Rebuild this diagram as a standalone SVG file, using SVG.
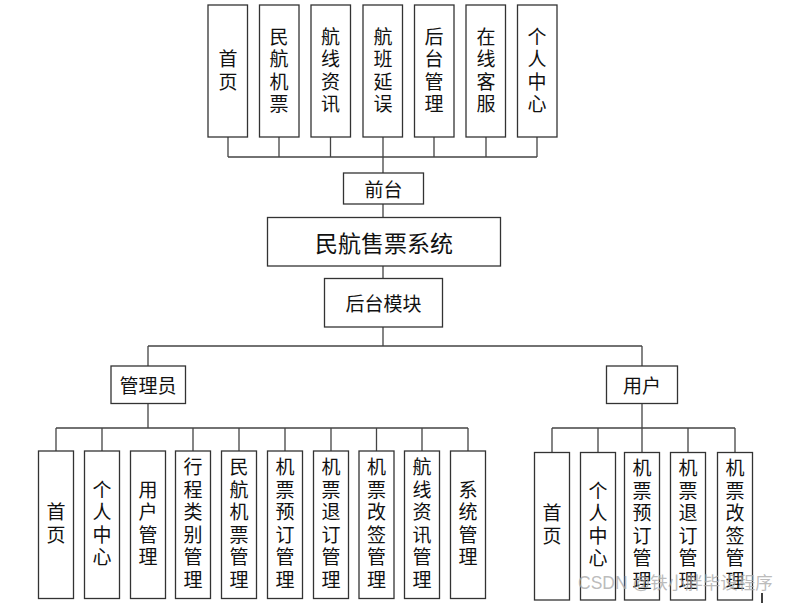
<svg xmlns="http://www.w3.org/2000/svg" width="786" height="603" viewBox="0 0 786 603">
<style>
.b{fill:#fff;stroke:#333;stroke-width:1.3}
.c{fill:none;stroke:#444;stroke-width:1.3}
text{font-family:"Noto Sans CJK SC","Liberation Sans",sans-serif;fill:#111;text-anchor:middle;dominant-baseline:central}
.t{font-size:19px}
.v{font-size:19px;writing-mode:vertical-rl;letter-spacing:3.5px}
.m{font-size:23px}
.w{font-family:"Liberation Sans","Noto Sans CJK SC",sans-serif;font-size:17.5px;fill:#aaa;fill-opacity:0.8;text-anchor:start}
</style>
<rect width="786" height="603" fill="#fff"/>
<g id="connectors" class="c">
<path d="M228 137V157M279 137V157M330.5 137V157M383 137V173M434 137V157M486 137V157M537 137V157M228 157H537"/>
<path d="M383 204V217M383 266V278M383 327V346M148 346H642M148 346V366M642 346V366"/>
<path d="M148 403V428M56 428H468M56 428V451M102 428V451M193 428V451M239 428V451M285 428V451M331 428V451M376.5 428V451M422 428V451M468 428V451"/>
<path d="M642 403V428M552 428H735M552 428V452M598 428V452M642 428V452M688 428V452M735 428V452"/>
</g>
<g id="n_shouye"><rect class="b" x="208" y="5" width="39.5" height="132"/><text class="v" x="228" y="72">首页</text></g>
<g id="n_mhjp"><rect class="b" x="259.5" y="5" width="39.5" height="132"/><text class="v" x="279" y="72">民航机票</text></g>
<g id="n_hxzx"><rect class="b" x="311" y="5" width="39.5" height="132"/><text class="v" x="330.5" y="72">航线资讯</text></g>
<g id="n_hbyw"><rect class="b" x="363" y="5" width="39.5" height="132"/><text class="v" x="383" y="72">航班延误</text></g>
<g id="n_htgl"><rect class="b" x="414.5" y="5" width="39.5" height="132"/><text class="v" x="434" y="72">后台管理</text></g>
<g id="n_zxkf"><rect class="b" x="466" y="5" width="39.5" height="132"/><text class="v" x="486" y="72">在线客服</text></g>
<g id="n_grzx"><rect class="b" x="517.5" y="5" width="39.5" height="132"/><text class="v" x="537" y="72">个人中心</text></g>
<g id="n_qiantai"><rect class="b" x="343.5" y="173" width="80" height="31"/><text class="t" x="383.5" y="188.5">前台</text></g>
<g id="n_system"><rect class="b" x="267.5" y="217.5" width="233" height="48.5"/><text class="m" x="384" y="241.5">民航售票系统</text></g>
<g id="n_houtai"><rect class="b" x="324.5" y="278.5" width="118" height="48.5"/><text class="t" x="383.5" y="302.5">后台模块</text></g>
<g id="n_admin"><rect class="b" x="111" y="366" width="74.5" height="37.5"/><text class="t" x="148" y="384.5">管理员</text></g>
<g id="n_user"><rect class="b" x="606.5" y="366" width="71" height="37.5"/><text class="t" x="642" y="384.5">用户</text></g>
<g id="a_shouye"><rect class="b" x="38.5" y="451" width="35" height="147.5"/><text class="v" x="56" y="525">首页</text></g>
<g id="a_grzx"><rect class="b" x="84.5" y="451" width="35" height="147.5"/><text class="v" x="102" y="525">个人中心</text></g>
<g id="a_yhgl"><rect class="b" x="130.5" y="451" width="35" height="147.5"/><text class="v" x="148" y="525">用户管理</text></g>
<g id="a_xclb"><rect class="b" x="175.5" y="451" width="35" height="147.5"/><text class="v" x="193" y="525">行程类别管理</text></g>
<g id="a_mhjp"><rect class="b" x="221.5" y="451" width="35" height="147.5"/><text class="v" x="239" y="525">民航机票管理</text></g>
<g id="a_jpyd"><rect class="b" x="267.5" y="451" width="35" height="147.5"/><text class="v" x="285" y="525">机票预订管理</text></g>
<g id="a_jptd"><rect class="b" x="313.5" y="451" width="35" height="147.5"/><text class="v" x="331" y="525">机票退订管理</text></g>
<g id="a_jpgq"><rect class="b" x="359" y="451" width="35" height="147.5"/><text class="v" x="376.5" y="525">机票改签管理</text></g>
<g id="a_hxzx"><rect class="b" x="404.5" y="451" width="35" height="147.5"/><text class="v" x="422" y="525">航线资讯管理</text></g>
<g id="a_xtgl"><rect class="b" x="450.5" y="451" width="35" height="147.5"/><text class="v" x="468" y="525">系统管理</text></g>
<g id="u_shouye"><rect class="b" x="534.5" y="452.5" width="35" height="147.5"/><text class="v" x="552" y="526">首页</text></g>
<g id="u_grzx"><rect class="b" x="580.5" y="452.5" width="35" height="147.5"/><text class="v" x="598" y="526">个人中心</text></g>
<g id="u_jpyd"><rect class="b" x="624.5" y="452.5" width="35" height="147.5"/><text class="v" x="642" y="526">机票预订管理</text></g>
<g id="u_jptd"><rect class="b" x="670.5" y="452.5" width="35" height="147.5"/><text class="v" x="688" y="526">机票退订管理</text></g>
<g id="u_jpgq"><rect class="b" x="717.5" y="452.5" width="35" height="147.5"/><text class="v" x="735" y="526">机票改签管理</text></g>
<line x1="762" y1="593" x2="762" y2="603" stroke="#000" stroke-width="1.5"/>
<text class="w" x="578" y="583">CSDN @铁小胖毕设程序</text>
</svg>
